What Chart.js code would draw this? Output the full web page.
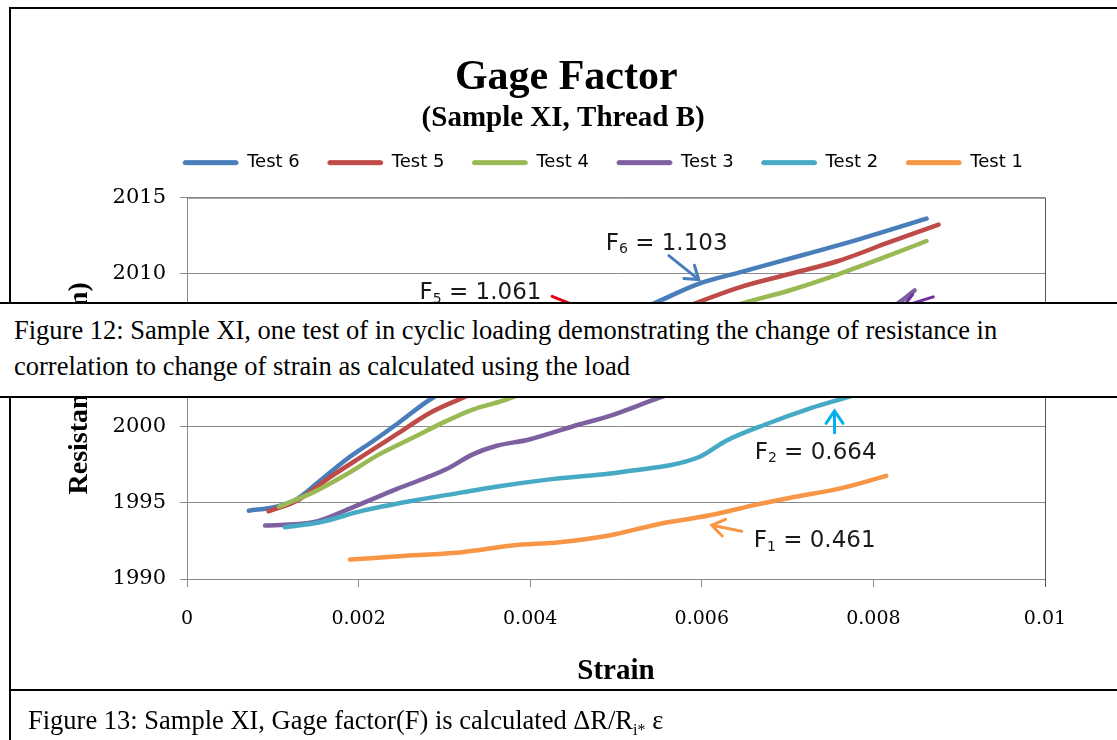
<!DOCTYPE html>
<html>
<head>
<meta charset="utf-8">
<script src="https://cdn.jsdelivr.net/npm/chart.js@4.4.0/dist/chart.umd.min.js"></script>
<style>
  html, body { margin: 0; padding: 0; background: #fff; }
  body { width: 1117px; height: 740px; position: relative; overflow: hidden; }
  #chart { position: absolute; left: 0; top: 0; }
  .rule { position: absolute; background: #000; }
  .caption { position: absolute; font-family: "Liberation Serif", "Times New Roman", serif; font-size: 26.5px; line-height: 36px; color: #000; white-space: nowrap; }
  #cap12 { left: 0; top: 302px; width: 1117px; height: 96px; box-sizing: border-box; padding: 8px 0 0 14px; background: #fff; border-top: 2px solid #000; border-bottom: 2px solid #000; }
  #cap13 { left: 28px; top: 702px; }
  sub { font-size: 16px; line-height: 0; }
</style>
</head>
<body>
<canvas id="chart" width="1117" height="740"></canvas>
<div class="rule" style="left:9px;top:7px;width:1108px;height:2px"></div>
<div class="rule" style="left:9px;top:7px;width:2px;height:733px"></div>
<div class="rule" style="left:9px;top:689px;width:1108px;height:2px"></div>
<div class="caption" id="cap12">Figure 12: Sample XI, one test of in cyclic loading demonstrating the change of resistance in<br>correlation to change of strain as calculated using the load</div>
<div class="caption" id="cap13">Figure 13: Sample XI, Gage factor(F) is calculated &Delta;R/R<sub>i*</sub> &epsilon;</div>
<script>
// gage factor chart, strain vs resistance for six tests
const testNames = ["Test 6", "Test 5", "Test 4", "Test 3", "Test 2", "Test 1"];
const testColors = ["#4A7EBB", "#BE4B48", "#98B954", "#7D60A0", "#46AAC5", "#F79646"];

const strain6 = [0.00072, 0.00104, 0.00128, 0.00155, 0.00186, 0.00217, 0.00244, 0.00286, 0.0041, 0.00538, 0.00597, 0.00643, 0.00721, 0.00779, 0.00862];
const ohm6 = [1994.48, 1994.74, 1995.24, 1996.44, 1997.85, 1999.05, 2000.13, 2001.87, 2005.2, 2007.92, 2009.37, 2010.09, 2011.29, 2012.2, 2013.63];

const strain5 = [0.00095, 0.00128, 0.00166, 0.00205, 0.00244, 0.00283, 0.00321, 0.0045, 0.00585, 0.00643, 0.00701, 0.00759, 0.00817, 0.00876];
const ohm5 = [1994.44, 1995.13, 1996.65, 1998.07, 1999.48, 2000.89, 2001.87, 2005.0, 2007.92, 2009.11, 2009.98, 2010.85, 2012.05, 2013.24];

const strain4 = [0.00107, 0.00147, 0.00186, 0.00224, 0.00263, 0.00302, 0.00333, 0.00372, 0.0051, 0.00639, 0.00701, 0.00759, 0.00817, 0.00862];
const ohm4 = [1994.74, 1995.68, 1996.87, 1998.17, 1999.26, 2000.35, 2001.11, 2001.76, 2004.9, 2007.92, 2008.9, 2009.98, 2011.18, 2012.16];

const strain3 = [0.00091, 0.00147, 0.00193, 0.00244, 0.00302, 0.00333, 0.0036, 0.00399, 0.00457, 0.00492, 0.0055, 0.007, 0.00829, 0.00848];
const ohm3 = [1993.5, 1993.72, 1994.7, 1995.89, 1997.19, 1998.17, 1998.72, 1999.15, 2000.13, 2000.68, 2001.87, 2004.6, 2008.09, 2008.92];

const strain2 = [0.00114, 0.00155, 0.00205, 0.00263, 0.00321, 0.0036, 0.00418, 0.00511, 0.00597, 0.00628, 0.00674, 0.00728, 0.00767, 0.0081];
const ohm2 = [1993.39, 1993.72, 1994.48, 1995.13, 1995.68, 1996.05, 1996.5, 1997.05, 1998.0, 1999.05, 2000.13, 2001.22, 2001.87, 2002.6];

const strain1 = [0.0019, 0.00263, 0.00321, 0.00379, 0.00434, 0.00492, 0.0055, 0.00608, 0.00666, 0.00705, 0.00763, 0.00815];
const ohm1 = [1991.28, 1991.55, 1991.76, 1992.2, 1992.41, 1992.85, 1993.61, 1994.16, 1994.91, 1995.35, 1995.96, 1996.76];

const xTickValues = [0, 0.002, 0.004, 0.006, 0.008, 0.01];
const yTickValues = [1990, 1995, 2000, 2005, 2010, 2015];

// F labels and arrows, in data units
const noteLabels = [
  { sub: "6", tail: " = 1.103", x: 0.00488, y: 2011.98 },
  { sub: "5", tail: " = 1.061", x: 0.00271, y: 2008.72 },
  { sub: "2", tail: " = 0.664", x: 0.006616, y: 1998.28 },
  { sub: "1", tail: " = 0.461", x: 0.006605, y: 1992.48 },
];
const noteArrows = [
  { color: "#4A7EBB", x1: 0.005616, y1: 2011.2, x2: 0.005965, y2: 2009.63 },
  { color: "#E3000F", x1: 0.004256, y1: 2008.53, x2: 0.005035, y2: 2006.76 },
  { color: "#7030A0", x1: 0.008698, y1: 2008.5, x2: 0.008349, y2: 2007.88 },
  { color: "#00B0F0", x1: 0.007547, y1: 1999.59, x2: 0.007547, y2: 2001.02 },
  { color: "#F79646", x1: 0.006465, y1: 1993.13, x2: 0.006116, y2: 1993.52 },
];

const seriesX = [strain6, strain5, strain4, strain3, strain2, strain1];
const seriesY = [ohm6, ohm5, ohm4, ohm3, ohm2, ohm1];

function toPoints(xs, ys) {
  return xs.map((x, i) => ({ x: x, y: ys[i] }));
}

// extra empty layout boxes so the plot area lands where the original one is
const spacers = {
  id: "spacers",
  beforeInit(chart) {
    const make = (position, size) => ({
      position: position,
      weight: -10,
      fullSize: false,
      options: {},
      isHorizontal() { return position === "top" || position === "bottom"; },
      update(maxWidth, maxHeight) {
        this.width = this.isHorizontal() ? maxWidth : size;
        this.height = this.isHorizontal() ? size : maxHeight;
      },
      draw() {},
    });
    Chart.layouts.addBox(chart, make("top", 16));
    Chart.layouts.addBox(chart, make("right", 72));
  },
};

const plotFrame = {
  id: "plotFrame",
  beforeDatasetsDraw(chart) {
    const { ctx, chartArea: a } = chart;
    ctx.save();
    ctx.lineWidth = 1;
    ctx.strokeStyle = "#808080";
    ctx.beginPath();
    ctx.moveTo(a.left, a.top + 0.5);
    ctx.lineTo(a.right, a.top + 0.5);
    ctx.stroke();
    ctx.strokeStyle = "#555";
    ctx.beginPath();
    ctx.moveTo(a.right + 0.5, a.top);
    ctx.lineTo(a.right + 0.5, a.bottom + 8);
    ctx.stroke();
    ctx.restore();
  },
};

const notes = {
  id: "notes",
  afterDatasetsDraw(chart) {
    const { ctx, scales: { x, y } } = chart;
    ctx.save();
    ctx.lineWidth = 3;
    ctx.lineCap = "round";
    noteArrows.forEach((a) => {
      const x1 = x.getPixelForValue(a.x1), y1 = y.getPixelForValue(a.y1);
      const x2 = x.getPixelForValue(a.x2), y2 = y.getPixelForValue(a.y2);
      const ang = Math.atan2(y2 - y1, x2 - x1);
      ctx.strokeStyle = a.color;
      ctx.beginPath();
      ctx.moveTo(x1, y1);
      ctx.lineTo(x2, y2);
      ctx.moveTo(x2 - 15 * Math.cos(ang - 0.6), y2 - 15 * Math.sin(ang - 0.6));
      ctx.lineTo(x2, y2);
      ctx.lineTo(x2 - 15 * Math.cos(ang + 0.6), y2 - 15 * Math.sin(ang + 0.6));
      ctx.stroke();
    });
    ctx.fillStyle = "#1a1a1a";
    ctx.textBaseline = "middle";
    ctx.textAlign = "left";
    noteLabels.forEach((n) => {
      let px = x.getPixelForValue(n.x);
      const py = y.getPixelForValue(n.y);
      ctx.font = '23px "DejaVu Sans"';
      ctx.fillText("F", px, py);
      px += ctx.measureText("F").width;
      ctx.font = '14px "DejaVu Sans"';
      ctx.fillText(n.sub, px, py + 6);
      px += ctx.measureText(n.sub).width;
      ctx.font = '23px "DejaVu Sans"';
      ctx.fillText(n.tail, px, py);
    });
    ctx.restore();
  },
};

const ctx = document.getElementById("chart").getContext("2d");
new Chart(ctx, {
  type: "scatter",
  data: {
    datasets: testNames.map((name, i) => ({
      label: name,
      data: toPoints(seriesX[i], seriesY[i]),
      borderColor: testColors[i],
      backgroundColor: testColors[i],
      borderWidth: 4.5,
      pointRadius: 0,
      showLine: true,
      cubicInterpolationMode: "monotone",
      borderCapStyle: "round",
      order: testNames.length - i,
    })),
  },
  options: {
    responsive: false,
    animation: false,
    devicePixelRatio: 1,
    layout: { padding: { left: 89, right: 0, top: 0, bottom: 51 } },
    scales: {
      x: {
        type: "linear",
        min: 0,
        max: 0.01,
        afterBuildTicks: (s) => { s.ticks = xTickValues.map((v) => ({ value: v })); },
        afterFit: (s) => { s.height = 110; },
        ticks: {
          callback: (v) => String(v),
          font: { family: "DejaVu Serif", size: 19 },
          color: "#000",
          padding: 21,
          maxRotation: 0,
          autoSkip: false,
        },
        grid: { drawOnChartArea: false, tickLength: 8, color: "#8a8a8a" },
        border: { color: "#8a8a8a" },
        title: {
          display: true,
          text: "Strain",
          font: { family: "Liberation Serif", size: 29, weight: "bold" },
          color: "#000",
          padding: { top: 0, bottom: 0 },
        },
      },
      y: {
        type: "linear",
        min: 1990,
        max: 2015,
        afterBuildTicks: (s) => { s.ticks = yTickValues.map((v) => ({ value: v })); },
        afterFit: (s) => { s.width = 98; },
        ticks: {
          callback: (v) => String(v),
          font: { family: "DejaVu Serif", size: 21 },
          color: "#000",
          padding: 14,
        },
        grid: { color: "#8a8a8a", tickLength: 7 },
        border: { color: "#8a8a8a" },
        title: {
          display: true,
          text: "Resistance (Ohm)",
          font: { family: "Liberation Serif", size: 28, weight: "bold" },
          color: "#000",
          padding: { top: -26, bottom: 0 },
        },
      },
    },
    plugins: {
      title: {
        display: true,
        // trailing spaces keep the title left of the legend centre, as in the original
        text: "Gage Factor       ",
        color: "#000",
        font: { family: "Liberation Serif", size: 42, weight: "bold", lineHeight: 1.2 },
        padding: { top: 53, bottom: 0 },
      },
      subtitle: {
        display: true,
        text: "(Sample XI, Thread B)           ",
        color: "#000",
        font: { family: "Liberation Serif", size: 29, weight: "bold", lineHeight: 0.5 },
        padding: { top: 7.8, bottom: 0 },
      },
      legend: {
        position: "top",
        fullSize: true,
        labels: {
          sort: (a, b) => a.datasetIndex - b.datasetIndex,
          boxWidth: 55,
          boxHeight: 4,
          padding: 28,
          color: "#000",
          font: { family: "DejaVu Sans", size: 18 },
          generateLabels: (chart) =>
            Chart.defaults.plugins.legend.labels.generateLabels(chart).map((l) => ({ ...l, lineWidth: 1, borderRadius: 2 })),
        },
      },
      tooltip: { enabled: false },
    },
  },
  plugins: [spacers, plotFrame, notes],
});
</script>
</body>
</html>
